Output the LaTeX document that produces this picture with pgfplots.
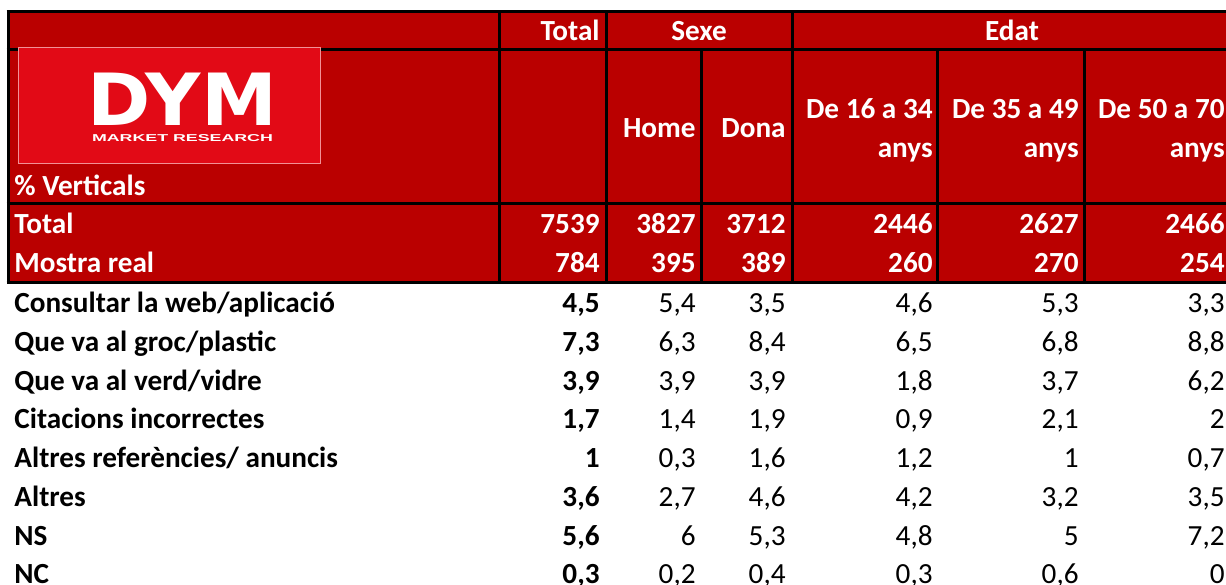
\documentclass[border=0pt]{standalone}
\usepackage{fontspec}
\setmainfont{Carlito}
\newfontfamily\logofont{DejaVu Sans}
\newfontfamily\logosmall{Liberation Sans}
\usepackage{pgfplots}
\usepackage{pgfplotstable}
\pgfplotsset{compat=1.18}
\definecolor{hdr}{HTML}{BA0000}
\definecolor{logored}{HTML}{E20A16}

\pgfplotstableread[col sep=semicolon]{
y;label;T;H;D;A;B;C
312;Consultar la web/aplicació;4.5;5.4;3.5;4.6;5.3;3.3
351;Que va al groc/plastic;7.3;6.3;8.4;6.5;6.8;8.8
390;Que va al verd/vidre;3.9;3.9;3.9;1.8;3.7;6.2
428;Citacions incorrectes;1.7;1.4;1.9;0.9;2.1;2
467;Altres referències/ anuncis;1;0.3;1.6;1.2;1;0.7
506;Altres;3.6;2.7;4.6;4.2;3.2;3.5
545;NS;5.6;6;5.3;4.8;5;7.2
583;NC;0.3;0.2;0.4;0.3;0.6;0
}\rows

\pgfplotstableread[col sep=semicolon]{
y;label;T;H;D;A;B;C
233;Total;7539;3827;3712;2446;2627;2466
272;Mostra real;784;395;389;260;270;254
}\hdrrows

\newcommand{\cellfont}{\fontsize{14.6}{16}\selectfont}

\pgfplotsset{
  lbl/.style={draw=none, mark=none, nodes near coords, point meta=explicit symbolic,
    every node near coord/.append style={anchor=base west, inner sep=0pt, font=\cellfont\bfseries, text=#1}},
  num/.style={draw=none, mark=none, nodes near coords, point meta=explicit,
    every node near coord/.append style={anchor=base east, inner sep=0pt, font=\cellfont, text=#1}},
  bnum/.style={num=#1, every node near coord/.append style={font=\cellfont\bfseries}},
}

\begin{document}
\begin{tikzpicture}
\begin{axis}[
  scale only axis, width=613pt, height=292pt,
  xmin=0, xmax=1226, ymin=0, ymax=584, y dir=reverse,
  hide axis, clip=false,
  /pgf/number format/.cd, use comma, 1000 sep={}, fixed, precision=1, assume math mode=true,
]
% header background
\fill[hdr] (8,11) rectangle (1230,282);

% grid lines
\draw[line width=1.5pt] (6.5,11.5) -- (1230,11.5);
\draw[line width=1.5pt] (6.5,49) -- (1230,49);
\draw[line width=1.5pt] (6.5,203.5) -- (1230,203.5);
\draw[line width=1.5pt] (6.5,282) -- (1230,282);
\draw[line width=1.5pt] (8,11) -- (8,283);
\draw[line width=1.5pt] (499,11) -- (499,283);
\draw[line width=1.5pt] (606,11) -- (606,283);
\draw[line width=1.5pt] (792,11) -- (792,283);
\draw[line width=1.5pt] (701,49) -- (701,283);
\draw[line width=1.5pt] (937,49) -- (937,283);
\draw[line width=1.5pt] (1084,49) -- (1084,283);

% logo
\fill[logored] (18,47) rectangle (320,163);
\draw[white!55!logored, line width=0.5pt] (18,47) rectangle (320,163);
\node[anchor=base, text=white, font=\logofont\bfseries\fontsize{36}{36}\selectfont, xscale=1.06, inner sep=0pt] at (182.5,125) {DYM};
\node[anchor=base, text=white, font=\logosmall\bfseries\fontsize{5}{6}\selectfont, xscale=1.78, inner sep=0pt] at (182.5,141.5) {MARKET RESEARCH};

% header texts
\node[anchor=base east, inner sep=0pt, text=white, font=\cellfont\bfseries] at (600,40) {Total};
\node[anchor=base, inner sep=0pt, text=white, font=\cellfont\bfseries] at (699,40) {Sexe};
\node[anchor=base, inner sep=0pt, text=white, font=\cellfont\bfseries] at (1012,40) {Edat};
\node[anchor=base east, inner sep=0pt, text=white, font=\cellfont\bfseries] at (696,137) {Home};
\node[anchor=base east, inner sep=0pt, text=white, font=\cellfont\bfseries] at (786,137) {Dona};
\node[anchor=base east, inner sep=0pt, text=white, font=\cellfont\bfseries] at (933,118) {De 16 a 34};
\node[anchor=base east, inner sep=0pt, text=white, font=\cellfont\bfseries] at (933,157) {anys};
\node[anchor=base east, inner sep=0pt, text=white, font=\cellfont\bfseries] at (1079,118) {De 35 a 49};
\node[anchor=base east, inner sep=0pt, text=white, font=\cellfont\bfseries] at (1079,157) {anys};
\node[anchor=base east, inner sep=0pt, text=white, font=\cellfont\bfseries] at (1225,118) {De 50 a 70};
\node[anchor=base east, inner sep=0pt, text=white, font=\cellfont\bfseries] at (1225,157) {anys};
\node[anchor=base west, inner sep=0pt, text=white, font=\cellfont\bfseries] at (14,195) {\% Verticals};

% header data rows
\addplot[lbl=white] table[x expr=14, y=y, meta=label] {\hdrrows};
\addplot[bnum=white] table[x expr=600, y=y, meta=T] {\hdrrows};
\addplot[bnum=white] table[x expr=696, y=y, meta=H] {\hdrrows};
\addplot[bnum=white] table[x expr=786, y=y, meta=D] {\hdrrows};
\addplot[bnum=white] table[x expr=933, y=y, meta=A] {\hdrrows};
\addplot[bnum=white] table[x expr=1079, y=y, meta=B] {\hdrrows};
\addplot[bnum=white] table[x expr=1225, y=y, meta=C] {\hdrrows};

% body rows
\addplot[lbl=black] table[x expr=14, y=y, meta=label] {\rows};
\addplot[bnum=black] table[x expr=600, y=y, meta=T] {\rows};
\addplot[num=black] table[x expr=696, y=y, meta=H] {\rows};
\addplot[num=black] table[x expr=786, y=y, meta=D] {\rows};
\addplot[num=black] table[x expr=933, y=y, meta=A] {\rows};
\addplot[num=black] table[x expr=1079, y=y, meta=B] {\rows};
\addplot[num=black] table[x expr=1225, y=y, meta=C] {\rows};
\end{axis}
\pgfresetboundingbox
\useasboundingbox (0,0) rectangle (613pt,292pt);
\end{tikzpicture}
\end{document}
